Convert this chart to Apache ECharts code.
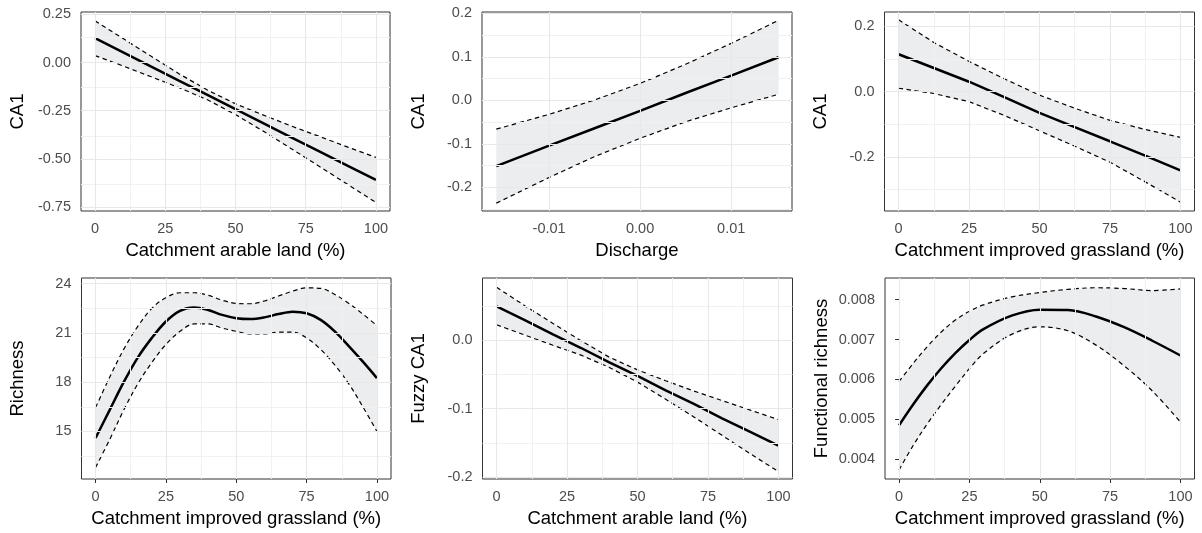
<!DOCTYPE html>
<html>
<head>
<meta charset="utf-8">
<title>Partial effects</title>
<script src="https://cdn.jsdelivr.net/npm/echarts@6/dist/echarts.min.js"></script>
<style>
  html, body { margin: 0; padding: 0; background: #ffffff; }
  #chart { width: 1202px; height: 533px; }
</style>
</head>
<body>
<div id="chart"></div>
<script>
// ---- Fitted effects (fit, upper and lower confidence limits) ----

// CA1 ~ catchment arable land
const ca1ArableX     = [0, 10, 20, 30, 40, 50, 60, 70, 80, 90, 100];
const ca1ArableFit   = [0.126, 0.053, -0.021, -0.095, -0.168, -0.242, -0.315, -0.389, -0.462, -0.536, -0.609];
const ca1ArableUpper = [0.216, 0.124, 0.032, -0.059, -0.143, -0.214, -0.273, -0.330, -0.384, -0.439, -0.492];
const ca1ArableLower = [0.036, -0.018, -0.074, -0.131, -0.193, -0.270, -0.357, -0.448, -0.540, -0.633, -0.726];

// CA1 ~ discharge
const ca1DischargeX     = [-0.0158, -0.01, -0.005, 0, 0.005, 0.01, 0.0152];
const ca1DischargeFit   = [-0.151, -0.104, -0.064, -0.024, 0.017, 0.057, 0.099];
const ca1DischargeUpper = [-0.066, -0.032, 0.001, 0.039, 0.083, 0.131, 0.184];
const ca1DischargeLower = [-0.236, -0.177, -0.129, -0.087, -0.049, -0.017, 0.014];

// CA1 ~ catchment improved grassland
const ca1GrassX     = [0, 12.5, 25, 37.5, 50, 62.5, 75, 87.5, 100];
const ca1GrassFit   = [0.114, 0.072, 0.030, -0.017, -0.065, -0.109, -0.152, -0.196, -0.241];
const ca1GrassUpper = [0.219, 0.150, 0.092, 0.039, -0.011, -0.051, -0.088, -0.116, -0.140];
const ca1GrassLower = [0.010, -0.006, -0.031, -0.073, -0.120, -0.167, -0.216, -0.276, -0.338];

// Richness ~ catchment improved grassland
const richX     = [0, 5, 10, 15, 20, 25, 30, 35, 40, 45, 50, 55, 60, 65, 70, 75, 80, 85, 90, 95, 100];
const richFit   = [14.6, 16.3, 18.0, 19.5, 20.7, 21.7, 22.35, 22.55, 22.4, 22.1, 21.9, 21.85, 21.95, 22.15, 22.3, 22.2, 21.8, 21.1, 20.2, 19.25, 18.25];
const richUpper = [16.45, 18.3, 20.0, 21.4, 22.5, 23.15, 23.45, 23.45, 23.3, 23.0, 22.8, 22.78, 22.95, 23.25, 23.55, 23.75, 23.72, 23.35, 22.8, 22.15, 21.45];
const richLower = [12.8, 14.5, 16.3, 17.9, 19.2, 20.3, 21.1, 21.55, 21.55, 21.3, 21.1, 20.95, 20.95, 21.05, 21.05, 20.7, 20.0, 19.05, 17.9, 16.5, 15.0];

// Fuzzy CA1 ~ catchment arable land
const fuzzyX     = [0, 10, 20, 30, 40, 50, 60, 70, 80, 90, 100];
const fuzzyFit   = [0.050, 0.030, 0.009, -0.011, -0.032, -0.052, -0.073, -0.093, -0.114, -0.134, -0.154];
const fuzzyUpper = [0.078, 0.051, 0.025, -0.0005, -0.0245, -0.043, -0.059, -0.074, -0.088, -0.102, -0.116];
const fuzzyLower = [0.023, 0.008, -0.007, -0.0215, -0.0395, -0.061, -0.086, -0.112, -0.139, -0.166, -0.192];

// Functional richness ~ catchment improved grassland
const fricX     = [0, 5, 10, 15, 20, 25, 30, 40, 50, 60, 70, 80, 90, 100];
const fricFit   = [0.00485, 0.00537, 0.00585, 0.00628, 0.00666, 0.00699, 0.00726, 0.00760, 0.00775, 0.00774, 0.00758, 0.00731, 0.00697, 0.00660];
const fricUpper = [0.00595, 0.00640, 0.00682, 0.00719, 0.00749, 0.00771, 0.00787, 0.00807, 0.00818, 0.00826, 0.00830, 0.00828, 0.00823, 0.00827];
const fricLower = [0.00373, 0.00434, 0.00488, 0.00537, 0.00583, 0.00627, 0.00665, 0.00713, 0.00732, 0.00722, 0.00686, 0.00634, 0.00571, 0.00493];

// ---- Axis breaks and their labels ----
const pctTicks  = [0, 25, 50, 75, 100];
const pctLabels = ['0', '25', '50', '75', '100'];
const dischargeTicks  = [-0.01, 0, 0.01];
const dischargeLabels = ['-0.01', '0.00', '0.01'];

const ca1ArableYTicks  = [-0.75, -0.5, -0.25, 0, 0.25];
const ca1ArableYLabels = ['-0.75', '-0.50', '-0.25', '0.00', '0.25'];
const ca1DischargeYTicks  = [-0.2, -0.1, 0, 0.1, 0.2];
const ca1DischargeYLabels = ['-0.2', '-0.1', '0.0', '0.1', '0.2'];
const ca1GrassYTicks  = [-0.2, 0, 0.2];
const ca1GrassYLabels = ['-0.2', '0.0', '0.2'];
const richYTicks  = [15, 18, 21, 24];
const richYLabels = ['15', '18', '21', '24'];
const fuzzyYTicks  = [-0.2, -0.1, 0];
const fuzzyYLabels = ['-0.2', '-0.1', '0.0'];
const fricYTicks  = [0.004, 0.005, 0.006, 0.007, 0.008];
const fricYLabels = ['0.004', '0.005', '0.006', '0.007', '0.008'];

// ---- Panels ----
const panels = [
  { x: ca1ArableX, fit: ca1ArableFit, upper: ca1ArableUpper, lower: ca1ArableLower, smooth: false,
    xRange: [-5, 105], yRange: [-0.77, 0.262],
    xTicks: pctTicks, xLabels: pctLabels, yTicks: ca1ArableYTicks, yLabels: ca1ArableYLabels,
    xName: 'Catchment arable land (%)', yName: 'CA1' },
  { x: ca1DischargeX, fit: ca1DischargeFit, upper: ca1DischargeUpper, lower: ca1DischargeLower, smooth: false,
    xRange: [-0.01737, 0.01668], yRange: [-0.254, 0.203],
    xTicks: dischargeTicks, xLabels: dischargeLabels, yTicks: ca1DischargeYTicks, yLabels: ca1DischargeYLabels,
    xName: 'Discharge', yName: 'CA1' },
  { x: ca1GrassX, fit: ca1GrassFit, upper: ca1GrassUpper, lower: ca1GrassLower, smooth: false,
    xRange: [-5, 105], yRange: [-0.365, 0.243],
    xTicks: pctTicks, xLabels: pctLabels, yTicks: ca1GrassYTicks, yLabels: ca1GrassYLabels,
    xName: 'Catchment improved grassland (%)', yName: 'CA1' },
  { x: richX, fit: richFit, upper: richUpper, lower: richLower, smooth: 0.35,
    xRange: [-5, 105], yRange: [12.1, 24.35],
    xTicks: pctTicks, xLabels: pctLabels, yTicks: richYTicks, yLabels: richYLabels,
    xName: 'Catchment improved grassland (%)', yName: 'Richness' },
  { x: fuzzyX, fit: fuzzyFit, upper: fuzzyUpper, lower: fuzzyLower, smooth: false,
    xRange: [-5, 105], yRange: [-0.203, 0.0916],
    xTicks: pctTicks, xLabels: pctLabels, yTicks: fuzzyYTicks, yLabels: fuzzyYLabels,
    xName: 'Catchment arable land (%)', yName: 'Fuzzy CA1' },
  { x: fricX, fit: fricFit, upper: fricUpper, lower: fricLower, smooth: 0.35,
    xRange: [-5, 105], yRange: [0.0035, 0.008545],
    xTicks: pctTicks, xLabels: pctLabels, yTicks: fricYTicks, yLabels: fricYLabels,
    xName: 'Catchment improved grassland (%)', yName: 'Functional richness' }
];

// Plot-area boxes in pixels (left, top, width, height)
const boxes = [
  [81, 12, 309, 199],
  [482, 12, 310, 199],
  [884.5, 12, 310, 199],
  [81.5, 278, 309.5, 201],
  [482.5, 278, 310, 201],
  [885, 278, 309.5, 201]
];

const FONT = '"Liberation Sans", Arial, Helvetica, sans-serif';
const TICK_FONT = 14.5;
const TITLE_FONT = 18.5;
const RIBBON = 'rgba(160, 165, 175, 0.2)';
const MAJOR_GRID = { color: '#E8E8E8', width: 1.1, type: 'solid', opacity: 1 };
const MINOR_GRID = { color: '#F1F1F1', width: 1, type: 'solid', opacity: 1 };

// Minor breaks sit half-way between major breaks, extended one step past each end
function minorBreaks(ticks, range) {
  const step = ticks[1] - ticks[0];
  const ext = [ticks[0] - step].concat(ticks, [ticks[ticks.length - 1] + step]);
  const out = [];
  for (let i = 0; i < ext.length - 1; i++) {
    const m = (ext[i] + ext[i + 1]) / 2;
    if (m > range[0] && m < range[1]) out.push(m);
  }
  return out;
}

function labeler(ticks, labels) {
  return function (v) {
    for (let i = 0; i < ticks.length; i++) {
      if (Math.abs(ticks[i] - v) < 1e-9) return labels[i];
    }
    return '';
  };
}

const grid = [], xAxis = [], yAxis = [], series = [];

panels.forEach(function (p, i) {
  const b = boxes[i];
  grid.push({
    left: b[0], top: b[1], width: b[2], height: b[3],
    show: true, borderColor: '#333333', borderWidth: 1, backgroundColor: 'transparent',
    containLabel: false, outerBoundsMode: 'none'
  });

  xAxis.push({
    type: 'value', gridIndex: i, min: p.xRange[0], max: p.xRange[1],
    axisLine: { show: false },
    splitLine: { show: false },
    axisTick: { show: true, customValues: p.xTicks, length: 4, lineStyle: { color: '#333333', width: 1 } },
    axisLabel: { customValues: p.xTicks, formatter: labeler(p.xTicks, p.xLabels), margin: 10,
                 color: '#4D4D4D', fontSize: TICK_FONT, fontFamily: FONT },
    name: p.xName, nameLocation: 'middle', nameGap: 30,
    nameTextStyle: { color: '#000000', fontSize: TITLE_FONT, fontFamily: FONT }
  });

  yAxis.push({
    type: 'value', gridIndex: i, min: p.yRange[0], max: p.yRange[1],
    axisLine: { show: false },
    splitLine: { show: false },
    axisTick: { show: true, customValues: p.yTicks, length: 4, lineStyle: { color: '#333333', width: 1 } },
    axisLabel: { customValues: p.yTicks, formatter: labeler(p.yTicks, p.yLabels), margin: 10,
                 color: '#4D4D4D', fontSize: TICK_FONT, fontFamily: FONT },
    name: p.yName, nameLocation: 'middle', nameGap: 54, nameRotate: 90,
    nameTextStyle: { color: '#000000', fontSize: TITLE_FONT, fontFamily: FONT }
  });

  // panel grid lines (minor first, then major)
  const gridLines = []
    .concat(minorBreaks(p.xTicks, p.xRange).map(function (v) { return { xAxis: v, lineStyle: MINOR_GRID }; }))
    .concat(minorBreaks(p.yTicks, p.yRange).map(function (v) { return { yAxis: v, lineStyle: MINOR_GRID }; }))
    .concat(p.xTicks.map(function (v) { return { xAxis: v, lineStyle: MAJOR_GRID }; }))
    .concat(p.yTicks.map(function (v) { return { yAxis: v, lineStyle: MAJOR_GRID }; }));

  series.push({
    type: 'line', xAxisIndex: i, yAxisIndex: i, data: [], z: 1, silent: true,
    markLine: {
      silent: true, animation: false, symbol: ['none', 'none'],
      label: { show: false }, emphasis: { disabled: true },
      lineStyle: { type: 'solid', opacity: 1 },
      data: gridLines
    }
  });

  // confidence band
  series.push({
    type: 'custom', xAxisIndex: i, yAxisIndex: i, z: 2, silent: true,
    data: p.x.map(function (x, k) { return [x, p.lower[k], p.upper[k]]; }),
    encode: { x: 0, y: [1, 2] },
    renderItem: function (params, api) {
      if (params.dataIndex !== 0) return null;
      const top = p.x.map(function (x, k) { return api.coord([x, p.upper[k]]); });
      const bot = p.x.map(function (x, k) { return api.coord([x, p.lower[k]]); }).reverse();
      return { type: 'polygon', shape: { points: top.concat(bot) }, style: { fill: RIBBON, stroke: null } };
    }
  });

  // dashed confidence limits
  [p.upper, p.lower].forEach(function (arr) {
    series.push({
      type: 'line', xAxisIndex: i, yAxisIndex: i, z: 3, silent: true,
      data: p.x.map(function (x, k) { return [x, arr[k]]; }),
      showSymbol: false, symbol: 'none', smooth: p.smooth,
      lineStyle: { color: '#000000', width: 1.2, type: [4.5, 3.5] }
    });
  });

  // fitted effect
  series.push({
    type: 'line', xAxisIndex: i, yAxisIndex: i, z: 4, silent: true,
    data: p.x.map(function (x, k) { return [x, p.fit[k]]; }),
    showSymbol: false, symbol: 'none', smooth: p.smooth,
    lineStyle: { color: '#000000', width: 2.5, type: 'solid' }
  });
});

const chart = echarts.init(document.getElementById('chart'), null, { renderer: 'canvas' });
chart.setOption({
  animation: false,
  backgroundColor: '#ffffff',
  grid: grid,
  xAxis: xAxis,
  yAxis: yAxis,
  series: series
});
</script>
</body>
</html>
